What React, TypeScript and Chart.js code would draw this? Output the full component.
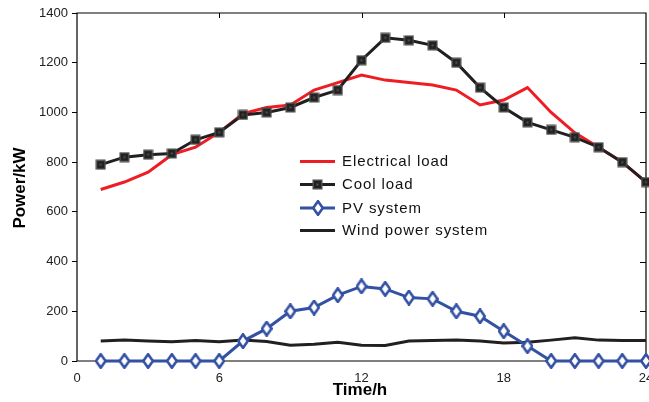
import React, { useEffect, useRef } from "react";
import { Chart, registerables } from "chart.js";

Chart.register(...registerables);

// Hour of day for each sample
const hours = [1, 2, 3, 4, 5, 6, 7, 8, 9, 10, 11, 12, 13, 14, 15, 16, 17, 18, 19, 20, 21, 22, 23, 24];

// Power series in kW
const electricalLoad = [690, 720, 760, 830, 860, 920, 995, 1020, 1030, 1090, 1120, 1150, 1130, 1120, 1110, 1090, 1030, 1050, 1100, 1000, 918, 860, 800, 720];
const coolLoad = [790, 820, 830, 835, 890, 920, 990, 1000, 1020, 1060, 1090, 1210, 1300, 1290, 1270, 1200, 1100, 1020, 960, 930, 900, 860, 800, 720];
const pvSystem = [0, 0, 0, 0, 0, 0, 80, 130, 200, 215, 265, 300, 290, 255, 250, 200, 180, 120, 60, 0, 0, 0, 0, 0];
const windPower = [80, 84, 80, 77, 82, 77, 84, 78, 63, 67, 75, 63, 62, 80, 82, 84, 80, 72, 75, 84, 94, 84, 82, 82];

// Axis ticks
const xTicks = [0, 6, 12, 18, 24];
const yTicks = [0, 200, 400, 600, 800, 1000, 1200, 1400];

const seriesNames = ["Electrical load", "Cool load", "PV system", "Wind power system"];

const RED = "#ee1d24";
const BLACK = "#231f20";
const BLUE = "#3351a3";
const FONT = "'Liberation Sans', Arial, Helvetica, sans-serif";

const toPoints = (ys: number[]) => hours.map((h, i) => ({ x: h, y: ys[i] }));

// Tall diamond marker with a thick blue outline and small white centre
function makeDiamond(): HTMLCanvasElement {
  const c = document.createElement("canvas");
  c.width = 12;
  c.height = 16;
  const g = c.getContext("2d")!;
  g.beginPath();
  g.moveTo(6, 1.2);
  g.lineTo(10.8, 8);
  g.lineTo(6, 14.8);
  g.lineTo(1.2, 8);
  g.closePath();
  g.fillStyle = "#ffffff";
  g.fill();
  g.lineWidth = 2.6;
  g.strokeStyle = BLUE;
  g.lineJoin = "miter";
  g.stroke();
  return c;
}

// Dark square marker
function makeSquare(): HTMLCanvasElement {
  const c = document.createElement("canvas");
  c.width = 11;
  c.height = 11;
  const g = c.getContext("2d")!;
  g.fillStyle = "#4a4a4a";
  g.fillRect(0.5, 0.5, 10, 10);
  g.fillStyle = "#222";
  g.fillRect(2, 2, 7, 7);
  g.fillStyle = "#555";
  g.fillRect(4.5, 4.5, 2, 2);
  return c;
}

// Box frame with inward ticks on top/right, x tick labels and axis titles
const framePlugin = {
  id: "frame",
  beforeDatasetsDraw(chart: any) {
    const { ctx, chartArea: a, scales } = chart;
    ctx.save();
    ctx.strokeStyle = "#000";
    ctx.lineWidth = 1.2;
    ctx.beginPath();
    ctx.rect(a.left, a.top, a.right - a.left, a.bottom - a.top);
    ctx.stroke();
    ctx.lineWidth = 1;
    ctx.beginPath();
    for (const t of xTicks.slice(1, -1)) {
      const x = Math.round(scales.x.getPixelForValue(t)) + 0.5;
      ctx.moveTo(x, a.top);
      ctx.lineTo(x, a.top + 5);
    }
    for (const t of yTicks.slice(1, -1)) {
      const y = Math.round(scales.y.getPixelForValue(t)) + 0.5;
      ctx.moveTo(a.right, y);
      ctx.lineTo(a.right - 6, y);
    }
    ctx.stroke();

    // x tick labels, centred under each tick (the last one runs off the edge)
    ctx.fillStyle = "#222";
    ctx.font = `13px ${FONT}`;
    ctx.textAlign = "center";
    ctx.textBaseline = "middle";
    for (const t of xTicks) {
      ctx.fillText(String(t), scales.x.getPixelForValue(t), a.bottom + 17);
    }

    ctx.fillStyle = "#000";
    ctx.font = `bold 17px ${FONT}`;
    ctx.fillText("Time/h", 360, 390);
    ctx.translate(20, 188);
    ctx.rotate(-Math.PI / 2);
    ctx.fillText("Power/kW", 0, 0);
    ctx.restore();
  },
};

// Legend drawn inside the plot area
const legendPlugin = {
  id: "insideLegend",
  afterDatasetsDraw(chart: any) {
    const { ctx } = chart;
    const rows = [161.5, 184.5, 208, 230.5];
    const x0 = 300;
    const x1 = 335;
    ctx.save();
    chart.data.datasets.forEach((ds: any, i: number) => {
      const y = rows[i];
      ctx.strokeStyle = ds.borderColor;
      ctx.lineWidth = 3;
      ctx.beginPath();
      ctx.moveTo(x0, y);
      ctx.lineTo(x1, y);
      ctx.stroke();
      if (ds.pointStyle instanceof HTMLCanvasElement) {
        const img = ds.pointStyle as HTMLCanvasElement;
        const cx = (x0 + x1) / 2;
        ctx.drawImage(img, Math.round(cx - img.width / 2), Math.round(y - img.height / 2));
      }
      ctx.fillStyle = "#111";
      ctx.font = `15px ${FONT}`;
      (ctx as any).letterSpacing = "0.9px";
      ctx.textAlign = "left";
      ctx.textBaseline = "middle";
      ctx.fillText(seriesNames[i], 342, y + 0.5);
      (ctx as any).letterSpacing = "0px";
    });
    ctx.restore();
  },
};

export default function App() {
  const canvasRef = useRef<HTMLCanvasElement | null>(null);

  useEffect(() => {
    const canvas = canvasRef.current;
    if (!canvas) return;
    const diamond = makeDiamond();
    const square = makeSquare();
    const chart = new Chart(canvas, {
      type: "line",
      data: {
        datasets: [
          {
            label: seriesNames[0],
            data: toPoints(electricalLoad),
            borderColor: RED,
            borderWidth: 3,
            pointRadius: 0,
            pointHoverRadius: 0,
            tension: 0,
            clip: false,
            order: 4,
          },
          {
            label: seriesNames[1],
            data: toPoints(coolLoad),
            borderColor: BLACK,
            borderWidth: 3,
            pointStyle: square,
            pointRadius: 6,
            tension: 0,
            clip: false,
            order: 3,
          },
          {
            label: seriesNames[2],
            data: toPoints(pvSystem),
            borderColor: BLUE,
            borderWidth: 3,
            pointStyle: diamond,
            pointRadius: 6,
            tension: 0,
            clip: false,
            order: 1,
          },
          {
            label: seriesNames[3],
            data: toPoints(windPower),
            borderColor: BLACK,
            borderWidth: 3,
            pointRadius: 0,
            pointHoverRadius: 0,
            tension: 0,
            clip: false,
            order: 2,
          },
        ] as any,
      },
      options: {
        animation: false,
        responsive: false,
        devicePixelRatio: 1,
        events: [],
        layout: { autoPadding: false, padding: { top: 13, right: 3, left: 0, bottom: 0 } },
        plugins: {
          legend: { display: false },
          tooltip: { enabled: false },
        },
        scales: {
          x: {
            type: "linear",
            min: 0,
            max: 24,
            afterBuildTicks: (scale: any) => {
              scale.ticks = xTicks.map((v) => ({ value: v }));
            },
            afterFit: (scale: any) => {
              scale.height = 41;
              scale.paddingLeft = 0;
              scale.paddingRight = 0;
            },
            ticks: { display: false },
            grid: { display: false, drawTicks: false },
            border: { display: false },
          },
          y: {
            type: "linear",
            min: 0,
            max: 1400,
            afterBuildTicks: (scale: any) => {
              scale.ticks = yTicks.map((v) => ({ value: v }));
            },
            afterFit: (scale: any) => {
              scale.width = 77;
              scale.paddingTop = 0;
              scale.paddingBottom = 0;
            },
            ticks: {
              font: { family: FONT, size: 13 },
              color: "#222",
              padding: 4,
              callback: (v: any) => String(v),
            },
            grid: {
              drawOnChartArea: false,
              drawTicks: true,
              tickLength: 5,
              color: "#000",
              lineWidth: 1,
            },
            border: { display: false },
          },
        },
      } as any,
      plugins: [framePlugin, legendPlugin],
    });
    return () => chart.destroy();
  }, []);

  return (
    <div style={{ position: "absolute", left: 0, top: 0, width: 649, height: 402, background: "#fff" }}>
      <canvas ref={canvasRef} width={649} height={402} />
    </div>
  );
}
